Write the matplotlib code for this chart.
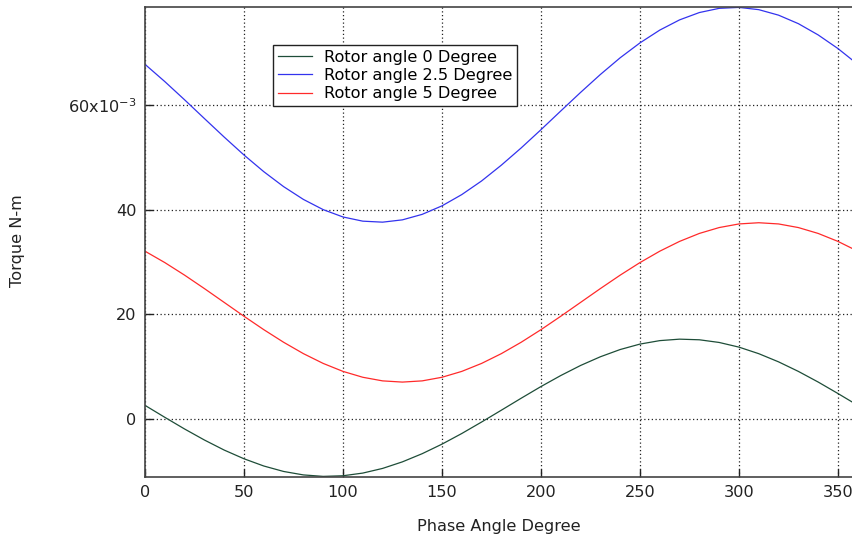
import matplotlib
matplotlib.use("Agg")
import matplotlib.pyplot as plt

phase_deg = [0, 10, 20, 30, 40, 50, 60, 70, 80, 90, 100, 110, 120, 130, 140, 150, 160, 170, 180,
             190, 200, 210, 220, 230, 240, 250, 260, 270, 280, 290, 300, 310, 320, 330, 340, 350, 360]

# torque in units of 1e-3 N-m
torque_rotor_0 = [2.66, 0.38, -1.85, -3.95, -5.87, -7.53, -8.91, -9.95, -10.61, -10.89, -10.77,
                  -10.26, -9.37, -8.12, -6.56, -4.74, -2.71, -0.52, 1.74, 4.02, 6.25, 8.35, 10.27,
                  11.93, 13.31, 14.35, 15.01, 15.29, 15.17, 14.66, 13.77, 12.52, 10.96, 9.14, 7.11,
                  4.92, 2.66]
torque_rotor_2_5 = [67.72, 64.43, 60.95, 57.38, 53.84, 50.42, 47.24, 44.39, 41.95, 40.00, 38.60,
                    37.80, 37.61, 38.05, 39.10, 40.72, 42.87, 45.47, 48.49, 51.77, 55.25, 58.82,
                    62.36, 65.78, 68.97, 71.81, 74.25, 76.20, 77.60, 78.40, 78.58, 78.15, 77.10,
                    75.48, 73.33, 70.73, 67.72]
torque_rotor_5 = [32.07, 29.90, 27.50, 24.94, 22.30, 19.66, 17.10, 14.70, 12.53, 10.66, 9.14,
                  8.02, 7.33, 7.10, 7.33, 8.02, 9.14, 10.66, 12.53, 14.70, 17.10, 19.66, 22.30,
                  24.94, 27.50, 29.90, 32.07, 33.94, 35.46, 36.58, 37.27, 37.50, 37.27, 36.58,
                  35.46, 33.94, 32.07]

labels = ["Rotor angle 0 Degree", "Rotor angle 2.5 Degree", "Rotor angle 5 Degree"]
x_ticks = [0, 50, 100, 150, 200, 250, 300, 350]
y_ticks = [0, 20, 40, 60]
y_tick_labels = ["0", "20", "40", "60x10$^{\\mathregular{-3}}$"]

plt.rcParams['font.family'] = ['DejaVu Sans']
FS = 11.6

fig = plt.figure(figsize=(8.53, 5.39), dpi=100)
ax = fig.add_axes([145/853, 1-476.7/539, 1-145/853, (476.7-7.3)/539])

ax.plot(phase_deg, torque_rotor_0, color='#1e4d38', lw=0.9, label=labels[0])
ax.plot(phase_deg, torque_rotor_2_5, color='#3333ee', lw=0.9, label=labels[1])
ax.plot(phase_deg, torque_rotor_5, color='#ff2a2a', lw=0.9, label=labels[2])

ax.set_xlim(0, 357.6)
ax.set_ylim(-10.95, 78.6)
ax.set_xticks(x_ticks)
ax.set_yticks(y_ticks)
ax.set_yticklabels(y_tick_labels)
ax.tick_params(direction='in', length=6, width=1, labelsize=FS, colors='#222222', pad=6)
ax.grid(True, linestyle=(0, (1, 2.0)), color='#222222', linewidth=0.9)
for s in ['left', 'top', 'bottom']:
    ax.spines[s].set_color('#444444')
    ax.spines[s].set_linewidth(1.2)
ax.spines['right'].set_visible(False)

fig.text(499/853, 1-527/539, "Phase Angle Degree", ha='center', va='center', fontsize=FS, color='#222222')
fig.text(18/853, 1-241/539, "Torque N-m", ha='center', va='center', rotation=90, fontsize=FS, color='#222222')

leg = ax.legend(loc='upper left', bbox_to_anchor=((273-145)/708, (476.7-45)/469.4), borderaxespad=0,
                fancybox=False, edgecolor='#222222', framealpha=1, fontsize=FS,
                handlelength=2.1, labelspacing=0.2, borderpad=0.3, handletextpad=0.75)
leg.get_frame().set_linewidth(1.0)

fig.savefig("out.png", dpi=100)
